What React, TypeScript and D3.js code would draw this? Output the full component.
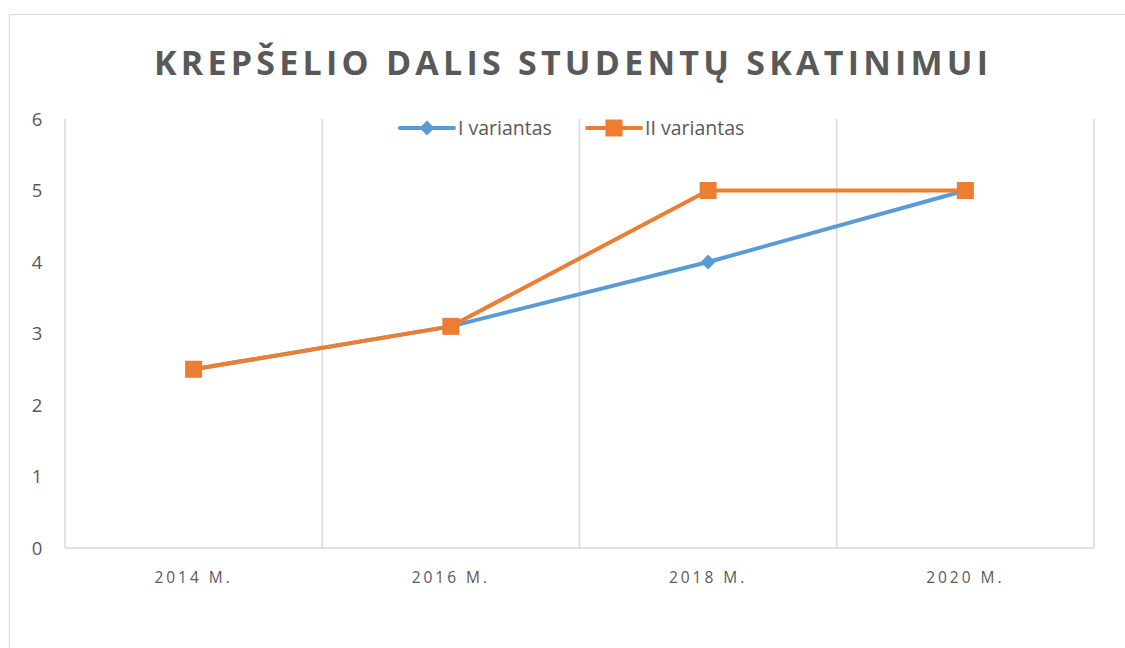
import * as d3 from "d3"
import { useRef, useEffect } from "react"

const categories = ["2014 M.", "2016 M.", "2018 M.", "2020 M."]
const seriesNames = ["I variantas", "II variantas"]
const variantI = [2.5, 3.1, 4, 5]
const variantII = [2.5, 3.1, 5, 5]
const yTicks = [0, 1, 2, 3, 4, 5, 6]

export default function App() {
  const ref = useRef<SVGSVGElement>(null)

  useEffect(() => {
    const width = 1125
    const height = 648
    const marginLeft = 65
    const marginRight = 31
    const marginTop = 119
    const plotBottom = 548

    const svg = d3.select(ref.current)
    svg.selectAll("*").remove()
    svg.attr("width", width).attr("height", height)

    const font = "'Open Sans', sans-serif"
    const grey = "#595959"

    // chart border, runs off the right and bottom edges
    svg.append("rect")
      .attr("x", 9.5).attr("y", 14.5)
      .attr("width", width + 20).attr("height", height + 20)
      .attr("fill", "#fff").attr("stroke", "#d9d9d9")

    const x = d3.scaleBand()
      .domain(categories)
      .range([marginLeft, width - marginRight])

    const y = d3.scaleLinear()
      .domain([0, 6])
      .range([plotBottom, marginTop])

    // vertical gridlines at band edges
    const edges = categories.map(c => x(c)!).concat([x.range()[1]])
    svg.append("g")
      .selectAll("line")
      .data(edges)
      .join("line")
      .attr("x1", d => d).attr("x2", d => d)
      .attr("y1", y(6)).attr("y2", y(0))
      .attr("stroke", "#d9d9d9").attr("stroke-width", 1.5)

    svg.append("line")
      .attr("x1", marginLeft).attr("x2", width - marginRight)
      .attr("y1", y(0)).attr("y2", y(0))
      .attr("stroke", "#d9d9d9").attr("stroke-width", 1.5)

    // y tick labels
    svg.append("g")
      .selectAll("text")
      .data(yTicks)
      .join("text")
      .attr("x", 37).attr("y", d => y(d))
      .attr("dy", "0.36em")
      .attr("text-anchor", "middle")
      .attr("font-family", font).attr("font-size", 18.5)
      .attr("fill", grey)
      .text(d => d)

    // x labels
    svg.append("g")
      .selectAll("text")
      .data(categories)
      .join("text")
      .attr("x", d => x(d)! + x.bandwidth() / 2)
      .attr("y", 583)
      .attr("text-anchor", "middle")
      .attr("font-family", font).attr("font-size", 15.5)
      .attr("letter-spacing", 3)
      .attr("fill", grey)
      .text(d => d)

    // title
    svg.append("text")
      .attr("x", 572).attr("y", 75)
      .attr("text-anchor", "middle")
      .attr("font-family", font).attr("font-size", 34)
      .attr("font-weight", "bold")
      .attr("letter-spacing", 2)
      .attr("textLength", 836)
      .attr("fill", grey)
      .text("KREPŠELIO DALIS STUDENTŲ SKATINIMUI")

    const line = d3.line<number>()
      .x((_, i) => x(categories[i])! + x.bandwidth() / 2)
      .y(d => y(d))

    const blue = "#5b9bd5"
    const orange = "#ed7d31"

    // series I
    svg.append("path")
      .datum(variantI)
      .attr("d", line)
      .attr("fill", "none").attr("stroke", blue)
      .attr("stroke-width", 4).attr("stroke-linejoin", "round")

    const diamond = d3.symbol().type(d3.symbolDiamond2).size(140)
    svg.append("g")
      .selectAll("path")
      .data(variantI)
      .join("path")
      .attr("d", diamond)
      .attr("transform", (d, i) => `translate(${x(categories[i])! + x.bandwidth() / 2},${y(d)})`)
      .attr("fill", blue)

    // series II
    svg.append("path")
      .datum(variantII)
      .attr("d", line)
      .attr("fill", "none").attr("stroke", orange)
      .attr("stroke-width", 4).attr("stroke-linejoin", "round")

    svg.append("g")
      .selectAll("rect")
      .data(variantII)
      .join("rect")
      .attr("x", (d, i) => x(categories[i])! + x.bandwidth() / 2 - 8.5)
      .attr("y", d => y(d) - 8.5)
      .attr("width", 17).attr("height", 17)
      .attr("fill", orange)

    // legend
    const legend = svg.append("g")
    const items = [
      { name: seriesNames[0], color: blue, x0: 400, marker: "diamond" },
      { name: seriesNames[1], color: orange, x0: 587, marker: "square" },
    ]
    items.forEach(it => {
      const g = legend.append("g")
      g.append("line")
        .attr("x1", it.x0).attr("x2", it.x0 + 54)
        .attr("y1", 128).attr("y2", 128)
        .attr("stroke", it.color).attr("stroke-width", 4)
        .attr("stroke-linecap", "round")
      if (it.marker === "diamond") {
        g.append("path")
          .attr("d", diamond)
          .attr("transform", `translate(${it.x0 + 27},128)`)
          .attr("fill", it.color)
      } else {
        g.append("rect")
          .attr("x", it.x0 + 27 - 8.5).attr("y", 128 - 8.5)
          .attr("width", 17).attr("height", 17)
          .attr("fill", it.color)
      }
      g.append("text")
        .attr("x", it.x0 + 58).attr("y", 128)
        .attr("dy", "0.36em")
        .attr("font-family", font).attr("font-size", 19.5)
        .attr("fill", grey)
        .text(it.name)
    })
  }, [])

  return (
    <div style={{ position: "fixed", left: 0, top: 0, overflow: "hidden", width: 1125, height: 648 }}>
      <svg ref={ref} style={{ display: "block" }}></svg>
    </div>
  )
}
